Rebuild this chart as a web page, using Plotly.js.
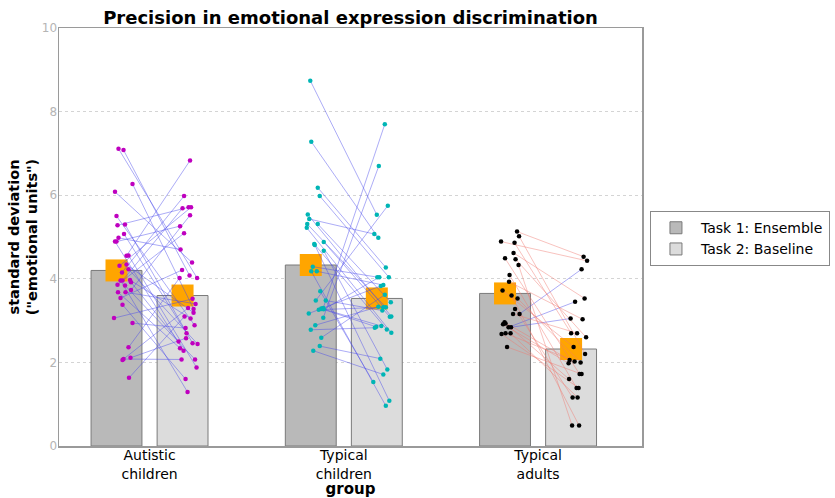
<!DOCTYPE html>
<html><head><meta charset="utf-8">
<script src="https://cdn.plot.ly/plotly-3.0.1.min.js"></script>
<style>html,body{margin:0;padding:0;background:#fff}#chart{width:835px;height:498px}</style>
</head><body><div id="chart"></div><script>
// ---- data ----
const groups = ['Autistic<br>children', 'Typical<br>children', 'Typical<br>adults'];
const meanEnsemble = [4.20, 4.33, 3.65];
const meanBaseline = [3.60, 3.53, 2.32];

// Autistic children (paired: ensemble -> baseline)
const ensAutistic = [7.11,7.08,6.27,6.08,5.50,5.28,5.30,5.07,4.98,4.89,4.89,4.55,4.56,4.31,4.34,4.23,4.15,3.96,3.96,3.97,3.92,3.86,3.84,3.73,3.68,3.68,3.54,3.38,3.06,2.94,2.36,2.06,2.08,2.11,1.63];
const baseAutistic = [4.02,4.08,3.28,4.39,2.89,5.71,2.46,2.70,4.70,2.28,5.26,6.83,1.88,5.71,3.19,2.44,5.98,1.29,5.69,3.05,2.50,5.09,2.07,5.52,2.34,3.40,4.21,1.60,3.52,2.82,4.02,3.30,2.07,2.58,3.10];
const jitEnsAutistic = [2,7,16,-1.5,0,1,8.5,7.5,2,-1.5,0,10,12,3,10,12,5.5,4,6,13.5,14.5,1,8.5,14.5,1.5,9,4,6,-2.5,16,12,6,7,14,12.5];
const jitBaseAutistic = [14.5,7,11,9.5,12,6,10,4,-2,1,-2.5,7.5,14,8.5,11,15,1.5,5,0,8,-4,1.5,12.5,7.5,-2.5,13,-0.5,3,10,3,-3,5.5,-1,3.5,2];

// Typical children
const ensChildren = [8.74,7.28,6.18,5.98,5.54,5.43,5.31,5.31,5.22,4.83,4.81,4.88,4.67,4.29,4.18,4.18,3.70,3.48,3.48,3.30,3.29,3.26,3.27,3.28,3.17,3.07,2.89,2.78,2.59,2.39,2.28];
const baseChildren = [5.53,4.98,4.27,4.04,3.10,5.07,3.32,3.44,2.71,2.79,1.08,3.09,1.83,4.04,0.96,3.85,1.53,5.75,3.24,7.70,2.87,3.32,4.04,2.85,3.83,6.70,3.33,2.83,3.62,2.09,1.71];
const jitEnsChildren = [-0.5,0.5,7,9,-3,-1.5,-3.5,7,-4,3.5,4,13,13,2,0.5,6,9.5,5,15,12.5,10.5,8,13,11,-2,12.5,4.5,0,10.5,9,2.5];
const jitBaseChildren = [0,1.5,9,12,14.5,-2.5,9,14,14.5,10,12.5,13,10.5,0.5,9,6.5,-3.5,11,5.5,8,4.5,6.5,2.5,-0.5,4,2,1.5,-2,8,3.5,6.5];

// Typical adults
const ensAdults = [5.13,5.02,4.89,4.86,4.62,4.49,4.47,4.33,4.09,3.93,3.72,3.60,3.53,3.28,3.16,3.16,2.96,2.93,2.91,2.84,2.84,2.70,2.68,2.70,2.37];
const baseAdults = [4.53,2.20,4.43,2.70,3.53,1.72,2.60,0.49,1.39,3.03,2.37,0.49,2.00,1.16,2.70,4.23,2.06,1.60,1.98,3.45,3.05,2.02,1.39,1.16,1.72];
const jitEnsAdults = [12,14,-4,9.5,8.5,0,10.5,13.5,4.5,4,-2.5,6.5,12.5,10,8,14.5,-0.5,0.5,-2,3.5,6,0.5,-3.5,5.5,2];
const jitBaseAdults = [12.5,14,16,0,13.5,8.5,15,1,5.5,11.5,2.5,8,9.5,1.5,6,10.5,-1.5,-2,-2.5,4,-0.5,3.5,7.5,6.5,10.5];

const yTicks = [0, 2, 4, 6, 8, 10];

// ---- build ----
const OFF = 0.17, BARW = 0.262, PXU = 194.3;
const idx = groups.map((g, i) => i);
const dotColors = ['#bf00bf', '#00b5b5', '#000000'];
const blueLine = 'rgba(70,70,235,0.45)';
const pinkLine = 'rgba(240,120,110,0.45)';

const sets = [
  {ens: ensAutistic, base: baseAutistic, je: jitEnsAutistic, jb: jitBaseAutistic, directional: false},
  {ens: ensChildren, base: baseChildren, je: jitEnsChildren, jb: jitBaseChildren, directional: false},
  {ens: ensAdults, base: baseAdults, je: jitEnsAdults, jb: jitBaseAdults, directional: true}
];

const traces = [];
traces.push({type: 'bar', name: 'Task 1: Ensemble', x: idx.map(i => i - OFF), y: meanEnsemble, width: BARW,
  marker: {color: '#b9b9b9', line: {color: '#7a7a7a', width: 1}}, hoverinfo: 'skip'});
traces.push({type: 'bar', name: 'Task 2: Baseline', x: idx.map(i => i + OFF), y: meanBaseline, width: BARW,
  marker: {color: '#dcdcdc', line: {color: '#7a7a7a', width: 1}}, hoverinfo: 'skip'});
traces.push({type: 'scatter', mode: 'markers', showlegend: false, hoverinfo: 'skip',
  x: idx.map(i => i - OFF).concat(idx.map(i => i + OFF)), y: meanEnsemble.concat(meanBaseline),
  marker: {symbol: 'square', size: 22, color: '#ffa500', line: {width: 0}}});

sets.forEach((s, g) => {
  const bx = [], by = [], px = [], py = [];
  s.ens.forEach((v, k) => {
    const x0 = g - OFF + s.je[k] / PXU, x1 = g + OFF + s.jb[k] / PXU;
    const pink = s.directional && s.base[k] < v;
    const X = pink ? px : bx, Y = pink ? py : by;
    X.push(x0, x1, null); Y.push(v, s.base[k], null);
  });
  traces.push({type: 'scatter', mode: 'lines', x: bx, y: by, showlegend: false, hoverinfo: 'skip',
    line: {color: blueLine, width: 1}});
  if (px.length) traces.push({type: 'scatter', mode: 'lines', x: px, y: py, showlegend: false, hoverinfo: 'skip',
    line: {color: pinkLine, width: 1}});
});
sets.forEach((s, g) => {
  traces.push({type: 'scatter', mode: 'markers', showlegend: false, hoverinfo: 'skip',
    x: s.ens.map((v, k) => g - OFF + s.je[k] / PXU).concat(s.base.map((v, k) => g + OFF + s.jb[k] / PXU)),
    y: s.ens.concat(s.base),
    marker: {size: 4.5, color: dotColors[g]}});
});

const layout = {
  width: 835, height: 498,
  margin: {l: 59, r: 193, t: 28, b: 52, autoexpand: false},
  paper_bgcolor: '#fff', plot_bgcolor: '#fff',
  font: {family: 'DejaVu Sans, sans-serif', color: '#000'},
  title: {text: '<b>Precision in emotional expression discrimination</b>', x: 0.5, xref: 'paper', xanchor: 'center',
    y: 0.964, yref: 'container', yanchor: 'middle', font: {size: 18, color: '#000'}},
  showlegend: true,
  legend: {xref: 'container', yref: 'container', x: 0.7784, xanchor: 'left', y: 0.576, yanchor: 'top',
    bordercolor: '#888', borderwidth: 1, bgcolor: '#fff', font: {size: 14, color: '#000'},
    itemwidth: 40, traceorder: 'normal'},
  xaxis: {range: [-0.466, 2.535], tickvals: idx, ticktext: groups, ticks: '', showgrid: false,
    zeroline: false, showline: true, mirror: true, linecolor: '#9a9a9a', linewidth: 1.5,
    tickfont: {size: 14, color: '#000'}, ticklabelstandoff: -4, automargin: false,
    title: {text: '<b>group</b>', font: {size: 15, color: '#000'}, standoff: 0}},
  yaxis: {range: [0, 10], tickvals: yTicks, ticks: '', ticklabelstandoff: -2,
    showgrid: true, gridcolor: '#d4d4d4', griddash: 'dot',
    zeroline: false, showline: true, mirror: true, linecolor: '#9a9a9a', linewidth: 1.5,
    tickfont: {size: 12, color: '#b5b5b5'}, automargin: false,
    title: {text: '<b>standard deviation<br>("emotional units")</b>', font: {size: 14.5, color: '#000'}, standoff: 0}},
  bargap: 0
};
Plotly.newPlot('chart', traces, layout, {displayModeBar: false, staticPlot: true});
</script></body></html>
